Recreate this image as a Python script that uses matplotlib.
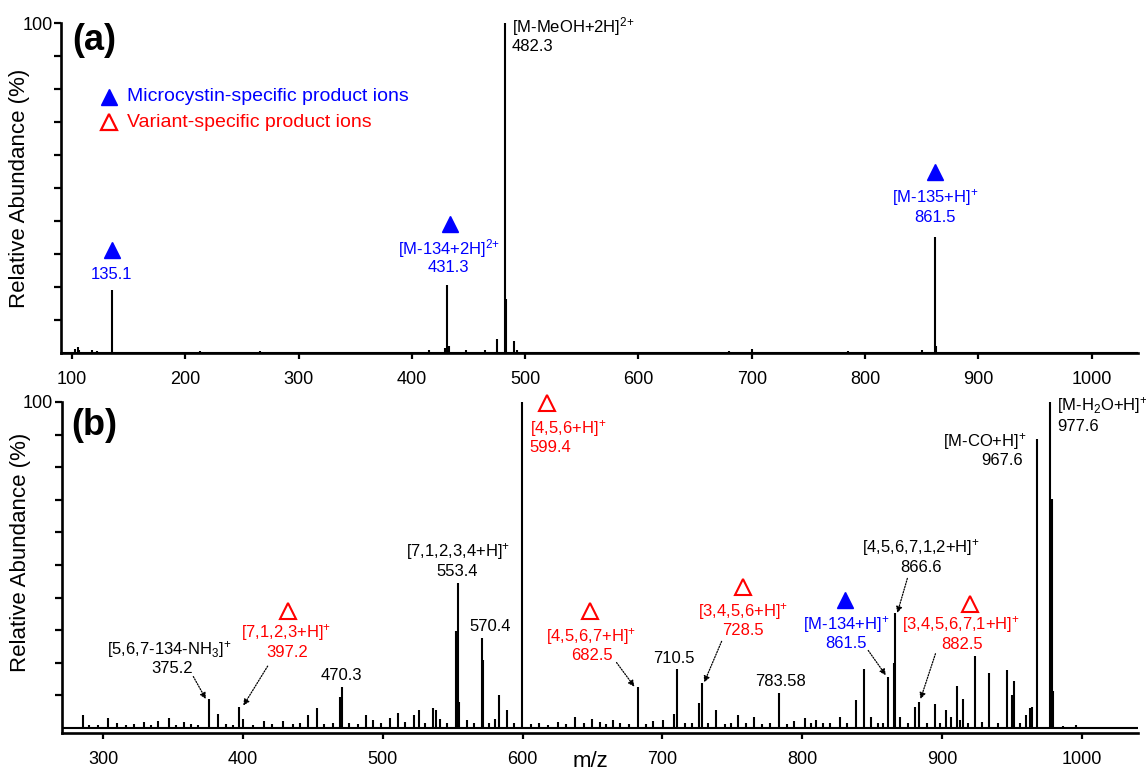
import matplotlib
matplotlib.use("Agg")
import matplotlib.pyplot as plt

plt.rcParams['font.family'] = ['Liberation Sans', 'DejaVu Sans']
plt.rcParams['mathtext.fontset'] = 'custom'
plt.rcParams['mathtext.rm'] = 'Liberation Sans'
plt.rcParams['mathtext.it'] = 'Liberation Sans:italic'
plt.rcParams['mathtext.bf'] = 'Liberation Sans:bold'
plt.rcParams['mathtext.default'] = 'regular'

# --- spectrum (a): m/z and relative abundance (%)
mz_a = [103.0, 105.0, 106.0, 118.0, 122.0, 135.1, 213.0, 266.0, 415.0, 429.5, 431.3,
        433.0, 448.0, 465.0, 475.0, 482.3, 483.3, 489.8, 493.0, 680.0, 700.0, 785.0,
        850.0, 861.5, 862.6]
int_a = [1.0, 1.8, 0.8, 0.8, 0.5, 19.0, 0.5, 0.5, 0.8, 1.5, 20.5,
         2.0, 0.8, 0.8, 4.1, 100.0, 16.3, 3.5, 0.8, 0.5, 1.0, 0.6,
         0.7, 35.0, 2.0]

# --- spectrum (b)
mz_b = [285.2, 290.0, 296.0, 303.1, 310.0, 316.0, 322.0, 329.4, 334.0, 339.4, 347.3,
        352.0, 357.5, 363.0, 368.0, 375.4, 382.3, 388.0, 393.0, 397.4, 400.0, 407.0,
        414.7, 421.0, 428.8, 436.0, 441.0, 446.7, 453.1, 458.0, 464.0, 469.5, 470.5,
        476.0, 482.0, 487.6, 493.0, 499.0, 505.0, 510.8, 516.0, 522.3, 525.9, 530.0,
        535.6, 538.0, 541.0, 546.0, 552.7, 553.5, 554.5, 559.9, 565.0, 570.9, 571.7,
        576.0, 580.6, 582.9, 588.8, 594.0, 599.4, 606.0, 612.0, 618.0, 625.0, 631.0,
        637.8, 644.0, 650.0, 655.2, 660.0, 664.5, 670.0, 676.0, 682.7, 688.0, 693.3,
        700.5, 708.5, 710.7, 716.0, 721.0, 725.9, 728.6, 733.0, 738.7, 745.0, 749.0,
        753.9, 760.0, 765.9, 771.0, 777.0, 783.8, 789.0, 793.9, 801.9, 806.0, 810.0,
        815.0, 820.0, 826.8, 832.0, 838.5, 844.6, 849.0, 854.0, 858.0, 861.5, 865.5,
        866.6, 870.0, 876.0, 881.0, 883.9, 889.0, 894.8, 899.0, 902.6, 906.6, 910.6,
        913.0, 915.4, 919.0, 923.9, 929.0, 933.5, 940.0, 946.3, 950.1, 951.7, 956.0,
        960.2, 963.4, 964.7, 967.7, 977.6, 978.6, 979.4, 987.0, 996.0]
int_b = [3.9, 0.8, 1.0, 3.1, 1.5, 1.0, 1.2, 1.8, 1.0, 2.3, 3.1,
         1.0, 2.0, 1.2, 1.0, 8.8, 4.4, 1.2, 1.0, 6.6, 2.8, 1.0,
         2.3, 1.2, 2.3, 1.3, 1.5, 4.1, 6.1, 1.3, 1.5, 9.6, 12.7,
         1.5, 1.2, 4.1, 2.6, 1.5, 3.0, 4.6, 1.8, 3.9, 5.7, 1.5,
         6.1, 5.4, 2.8, 1.5, 29.7, 44.4, 8.0, 2.6, 1.5, 27.7, 20.8,
         1.5, 2.8, 10.1, 5.7, 1.5, 100.0, 1.2, 1.5, 1.0, 2.0, 1.2,
         3.5, 1.5, 2.8, 1.8, 1.2, 2.5, 1.5, 1.2, 12.5, 1.2, 2.3,
         2.5, 4.2, 18.2, 1.5, 1.5, 7.6, 13.8, 1.5, 5.4, 1.2, 1.5,
         3.9, 1.5, 3.5, 1.2, 1.5, 10.7, 1.2, 2.3, 3.1, 1.5, 2.5,
         1.5, 1.5, 3.3, 1.5, 8.7, 18.0, 3.3, 1.5, 1.5, 15.7, 20.1,
         35.3, 3.3, 1.5, 6.4, 7.9, 1.5, 7.4, 1.5, 5.4, 3.3, 12.8,
         2.5, 8.9, 1.5, 22.1, 2.0, 17.0, 1.5, 17.8, 10.2, 14.5, 1.5,
         4.1, 6.1, 6.4, 88.7, 100.0, 70.2, 11.4, 0.5, 0.8]

# annotations: (x, y, text, colour, ha)
labels_a = [
    (135.1, 23.6, '135.1', 'blue', 'center'),
    (432.6, 31.7, '[M-134+2H]$^{2{+}}$', 'blue', 'center'),
    (432.6, 25.8, '431.3', 'blue', 'center'),
    (488.0, 99.0, '[M-MeOH+2H]$^{2{+}}$', 'black', 'left'),
    (488.0, 92.9, '482.3', 'black', 'left'),
    (862.0, 47.1, '[M-135+H]$^{+}$', 'blue', 'center'),
    (862.0, 41.0, '861.5', 'blue', 'center'),
]
filled_a = [(135.4, 31.2), (434.0, 39.0), (862.1, 54.8)]

labels_b = [
    (347.5, 24.1, '[5,6,7-134-NH$_3$]$^{+}$', 'black', 'center'),
    (349.0, 18.2, '375.2', 'black', 'center'),
    (431.0, 29.2, '[7,1,2,3+H]$^{+}$', 'red', 'center'),
    (431.6, 23.3, '397.2', 'red', 'center'),
    (470.5, 16.0, '470.3', 'black', 'center'),
    (553.5, 54.0, '[7,1,2,3,4+H]$^{+}$', 'black', 'center'),
    (553.5, 47.9, '553.4', 'black', 'center'),
    (576.5, 31.2, '570.4', 'black', 'center'),
    (605.0, 92.0, '[4,5,6+H]$^{+}$', 'red', 'left'),
    (605.0, 85.9, '599.4', 'red', 'left'),
    (649.0, 28.2, '[4,5,6,7+H]$^{+}$', 'red', 'center'),
    (649.8, 22.3, '682.5', 'red', 'center'),
    (708.5, 21.3, '710.5', 'black', 'center'),
    (758.0, 35.8, '[3,4,5,6+H]$^{+}$', 'red', 'center'),
    (758.0, 29.9, '728.5', 'red', 'center'),
    (784.6, 14.2, '783.58', 'black', 'center'),
    (831.3, 31.7, '[M-134+H]$^{+}$', 'blue', 'center'),
    (831.3, 25.9, '861.5', 'blue', 'center'),
    (884.7, 55.5, '[4,5,6,7,1,2+H]$^{+}$', 'black', 'center'),
    (884.7, 49.2, '866.6', 'black', 'center'),
    (914.0, 31.7, '[3,4,5,6,7,1+H]$^{+}$', 'red', 'center'),
    (914.5, 25.6, '882.5', 'red', 'center'),
    (961.0, 87.9, '[M-CO+H]$^{+}$', 'black', 'right'),
    (958.0, 81.9, '967.6', 'black', 'right'),
    (982.6, 98.8, '[M-H$_2$O+H]$^{+}$', 'black', 'left'),
    (982.6, 92.5, '977.6', 'black', 'left'),
]
filled_b = [(830.5, 39.3)]
open_b = [(432.1, 35.8), (617.4, 99.6), (648.5, 35.8), (757.9, 43.2), (919.9, 38.1)]
# arrows: (start x, start y, end x, end y)
arrows_b = [
    (364.4, 15.8, 373.4, 8.9),
    (417.6, 19.0, 400.2, 6.9),
    (667.2, 20.1, 680.0, 12.7),
    (742.4, 26.6, 729.9, 14.0),
    (847.3, 23.8, 859.9, 16.2),
    (875.3, 45.9, 868.1, 35.3),
    (895.4, 22.8, 884.7, 8.9),
]

fig = plt.figure(figsize=(11.46, 7.74), dpi=100)
ax1 = fig.add_axes([0.0532, 0.5443, 0.9398, 0.4256])
ax2 = fig.add_axes([0.0538, 0.0534, 0.9392, 0.4273])


def style(ax, xlim, ylim):
    ax.set_xlim(*xlim)
    ax.set_ylim(*ylim)
    for s in ['top', 'right']:
        ax.spines[s].set_visible(False)
    for s in ['left', 'bottom']:
        ax.spines[s].set_linewidth(1.9)
    ax.set_xticks(range(int(xlim[0] // 100 + 1) * 100, 1001, 100))
    ax.set_yticks(range(10, 101, 10))
    ax.set_yticklabels([''] * 9 + ['100'])
    ax.tick_params(axis='both', direction='out', width=1.6, labelsize=13)
    ax.tick_params(axis='x', length=4, pad=9)
    ax.tick_params(axis='y', length=5, pad=1)
    ax.set_ylabel('Relative Abundance (%)', fontsize=16)


style(ax1, (90.3, 1040.9), (0, 100))
style(ax2, (270.2, 1040.3), (-1.4, 100))
ax1.yaxis.set_label_coords(-0.0285, 0.5)
ax2.yaxis.set_label_coords(-0.0285, 0.546)

ax1.vlines(mz_a, 0, int_a, color='black', lw=1.5)
ax1.plot([90.3, 1040.9], [0, 0], color='black', lw=1.5)
ax2.vlines(mz_b, 0, int_b, color='black', lw=1.5)
ax2.plot([270.2, 1040.3], [0, 0], color='black', lw=1.5)

for ax, labels in [(ax1, labels_a), (ax2, labels_b)]:
    for x, y, t, c, ha in labels:
        ax.text(x, y, t, color=c, ha=ha, va='center', fontsize=12, zorder=5)

for x, y in filled_a:
    ax1.plot(x, y, marker='^', ms=11, color='blue', ls='none', clip_on=False)
for x, y in filled_b:
    ax2.plot(x, y, marker='^', ms=11, color='blue', ls='none', clip_on=False)
for x, y in open_b:
    ax2.plot(x, y, marker='^', ms=11, mfc='none', mec='red', mew=1.5, ls='none',
             clip_on=False)

for x0, y0, x1, y1 in arrows_b:
    ax2.annotate('', xy=(x1, y1), xytext=(x0, y0),
                 arrowprops=dict(arrowstyle='-|>', ls=(0, (1, 1.2)), lw=0.9,
                                 color='black', mutation_scale=9, shrinkA=0, shrinkB=0))

# legend in panel (a)
ax1.plot(132.3, 77.7, marker='^', ms=12, color='blue', ls='none')
ax1.plot(132.3, 70.1, marker='^', ms=12, mfc='none', mec='red', mew=1.6, ls='none')
ax1.text(149, 77.7, 'Microcystin-specific product ions', color='blue', fontsize=14, va='center')
ax1.text(149, 70.0, 'Variant-specific product ions', color='red', fontsize=14, va='center')

fig.text(94.7 / 1146, 1 - 40 / 774, '(a)', fontsize=26, fontweight='bold', ha='center', va='center')
fig.text(94.7 / 1146, 1 - 425 / 774, '(b)', fontsize=26, fontweight='bold', ha='center', va='center')
fig.text(590 / 1146, 2 / 774, 'm/z', fontsize=16, ha='center', va='bottom')

plt.savefig('out.png', dpi=100)
